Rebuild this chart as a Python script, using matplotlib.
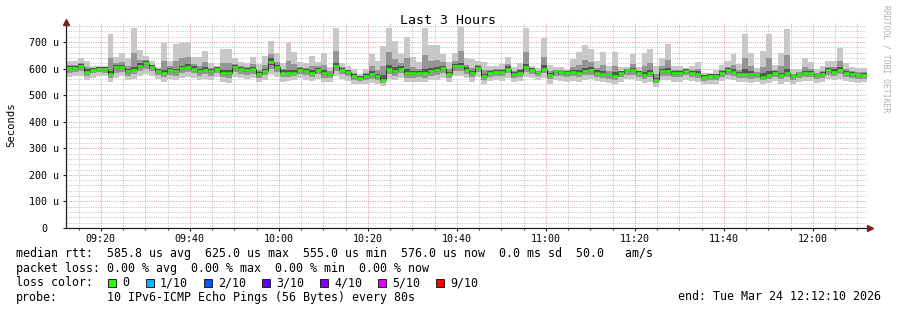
import datetime as dt
import numpy as np
import matplotlib
matplotlib.use("Agg")
import matplotlib.pyplot as plt
import matplotlib.dates as mdates
from matplotlib.ticker import MultipleLocator, FuncFormatter
from matplotlib.patches import Rectangle

# ---------------- data (microseconds) ----------------
start = dt.datetime(2026, 3, 24, 9, 12, 10)
step_seconds = 80

median = [601, 601, 608, 588, 595, 600, 598, 580, 604, 604,
          589, 596, 610, 619, 605, 590, 584, 594, 590, 601,
          606, 600, 590, 596, 590, 600, 583, 584, 604, 599,
          594, 599, 579, 591, 623, 604, 585, 585, 585, 595,
          591, 585, 596, 583, 578, 609, 596, 586, 571, 566,
          571, 578, 570, 558, 600, 591, 600, 584, 583, 584,
          585, 589, 593, 601, 580, 610, 608, 596, 583, 603,
          571, 585, 588, 586, 600, 579, 585, 605, 596, 586,
          599, 575, 589, 586, 583, 586, 584, 591, 593, 585,
          580, 578, 573, 583, 593, 593, 584, 576, 583, 558,
          589, 589, 583, 583, 591, 584, 580, 568, 573, 571,
          584, 593, 588, 580, 580, 578, 578, 569, 576, 584,
          574, 583, 570, 579, 583, 583, 574, 579, 593, 588,
          595, 584, 579, 574, 576]

ping_max = [628, 628, 638, 628, 611, 608, 608, 730, 643, 660,
            638, 753, 668, 648, 630, 605, 696, 630, 691, 696,
            700, 643, 643, 666, 620, 611, 674, 674, 638, 626,
            620, 643, 618, 648, 703, 658, 620, 696, 663, 625,
            620, 646, 625, 658, 605, 753, 620, 610, 599, 580,
            599, 653, 628, 685, 753, 703, 653, 718, 643, 625,
            753, 690, 688, 655, 625, 658, 755, 638, 634, 628,
            625, 611, 611, 618, 643, 605, 620, 753, 611, 601,
            713, 615, 605, 605, 600, 634, 661, 690, 674, 628,
            663, 611, 663, 605, 605, 655, 605, 659, 674, 611,
            638, 693, 608, 608, 603, 611, 625, 585, 583, 593,
            613, 628, 655, 618, 730, 659, 601, 665, 730, 615,
            659, 750, 598, 600, 640, 625, 598, 610, 628, 630,
            678, 620, 605, 603, 603]

ping_min = [568, 570, 573, 555, 565, 573, 570, 550, 565, 570,
            558, 562, 570, 580, 573, 560, 550, 560, 555, 565,
            568, 565, 555, 562, 555, 568, 550, 545, 568, 563,
            560, 563, 548, 558, 578, 568, 550, 552, 555, 563,
            558, 553, 560, 550, 548, 570, 560, 553, 543, 540,
            543, 545, 540, 533, 560, 555, 565, 548, 550, 550,
            548, 555, 558, 565, 548, 570, 570, 563, 550, 568,
            543, 553, 555, 553, 565, 548, 552, 568, 563, 555,
            565, 543, 555, 553, 550, 553, 550, 558, 560, 553,
            548, 546, 543, 550, 560, 560, 552, 545, 550, 530,
            555, 555, 550, 550, 558, 552, 548, 540, 543, 543,
            552, 560, 555, 548, 548, 546, 548, 540, 545, 552,
            543, 550, 542, 548, 552, 552, 545, 548, 560, 555,
            562, 552, 548, 545, 548]

mid_hi = [612, 612, 620, 604, 601, 603, 602, 640, 620, 626,
          609, 659, 633, 631, 615, 596, 629, 608, 630, 639,
          644, 617, 611, 624, 602, 604, 619, 620, 618, 610,
          604, 617, 595, 614, 655, 626, 599, 629, 616, 607,
          603, 609, 608, 613, 589, 667, 606, 596, 582, 572,
          582, 608, 593, 609, 661, 636, 621, 638, 607, 600,
          652, 629, 631, 623, 598, 629, 667, 613, 603, 613,
          593, 595, 597, 599, 617, 589, 599, 664, 602, 592,
          645, 591, 595, 594, 590, 605, 615, 631, 625, 602,
          613, 591, 609, 592, 598, 618, 592, 609, 619, 579,
          609, 631, 593, 593, 596, 595, 598, 575, 577, 580,
          596, 607, 615, 595, 640, 610, 587, 607, 638, 596,
          608, 650, 581, 587, 606, 600, 584, 591, 607, 605,
          628, 598, 589, 586, 587]

mid_lo = [585, 587, 590, 572, 582, 587, 585, 565, 585, 587,
          573, 579, 591, 599, 589, 575, 567, 577, 572, 583,
          587, 583, 572, 579, 572, 585, 567, 563, 587, 581,
          577, 581, 563, 574, 600, 586, 567, 568, 570, 579,
          575, 569, 578, 566, 563, 590, 578, 570, 557, 553,
          557, 561, 555, 545, 581, 573, 583, 566, 566, 567,
          566, 572, 575, 583, 564, 591, 589, 579, 567, 586,
          557, 569, 572, 570, 583, 563, 568, 587, 580, 571,
          582, 559, 572, 570, 567, 570, 567, 575, 577, 569,
          564, 562, 558, 567, 577, 577, 568, 561, 567, 544,
          572, 572, 567, 567, 575, 568, 564, 554, 558, 557,
          568, 577, 572, 564, 564, 562, 563, 555, 561, 568,
          559, 567, 556, 564, 568, 568, 560, 564, 577, 572,
          579, 568, 564, 560, 562]

core_hi = [609, 608, 616, 597, 602, 606, 605, 590, 612, 614,
           598, 606, 620, 628, 612, 597, 594, 602, 600, 611,
           616, 608, 599, 606, 597, 606, 593, 594, 612, 606,
           601, 607, 588, 600, 640, 613, 593, 596, 595, 602,
           598, 594, 603, 594, 585, 620, 603, 593, 578, 571,
           578, 590, 580, 575, 615, 605, 610, 598, 592, 591,
           600, 603, 605, 610, 588, 618, 620, 604, 592, 611,
           580, 592, 595, 593, 610, 586, 593, 618, 602, 592,
           613, 584, 595, 592, 589, 594, 596, 603, 605, 593,
           592, 585, 586, 589, 599, 602, 590, 586, 595, 566,
           598, 603, 590, 590, 597, 591, 589, 574, 578, 578,
           592, 601, 598, 588, 598, 590, 584, 582, 592, 591,
           585, 600, 577, 585, 592, 590, 580, 586, 601, 597,
           606, 591, 586, 581, 583]

core_lo = [595, 596, 601, 582, 590, 595, 592, 574, 597, 598,
           583, 590, 603, 612, 599, 584, 578, 588, 583, 595,
           600, 594, 584, 590, 584, 594, 577, 577, 598, 593,
           588, 593, 573, 585, 612, 597, 578, 579, 579, 589,
           585, 579, 590, 577, 572, 602, 590, 580, 566, 561,
           566, 572, 564, 552, 593, 585, 594, 577, 577, 578,
           578, 583, 587, 595, 574, 603, 601, 590, 577, 597,
           566, 579, 582, 580, 594, 573, 579, 598, 590, 580,
           593, 569, 583, 580, 577, 580, 578, 585, 587, 579,
           574, 572, 567, 577, 587, 587, 578, 570, 577, 553,
           583, 583, 577, 577, 585, 578, 574, 563, 568, 566,
           578, 587, 582, 574, 574, 572, 573, 564, 570, 578,
           568, 577, 565, 573, 577, 577, 569, 573, 587, 582,
           589, 578, 573, 569, 571]

legend_rows = [
    "median rtt:  585.8 us avg  625.0 us max  555.0 us min  576.0 us now  0.0 ms sd  50.0   am/s",
    "packet loss: 0.00 % avg  0.00 % max  0.00 % min  0.00 % now",
]
loss_labels = ["0", "1/10", "2/10", "3/10", "4/10", "5/10", "9/10"]
loss_colors = ["#26ff00", "#00b8ff", "#0059ff", "#5e00ff", "#7e00ff", "#dd00ff", "#ff0000"]
probe_text = "10 IPv6-ICMP Echo Pings (56 Bytes) every 80s"
end_text = "end: Tue Mar 24 12:12:10 2026"
title = "Last 3 Hours"

# ---------------- figure ----------------
W, H = 897, 310
MONO = "DejaVu Sans Mono"
fig = plt.figure(figsize=(W / 100, H / 100), dpi=100)
fig.patch.set_facecolor("white")

def fx(px):
    return px / W

def fy(py):
    return 1 - py / H

ax = fig.add_axes([fx(66), fy(228), fx(867) - fx(66), fy(22) - fy(228)])
ax.set_facecolor("white")

n = len(median)
edges = mdates.date2num([start + dt.timedelta(seconds=step_seconds * i) for i in range(n + 1)])

def ext(a):
    return np.append(np.asarray(a, float), a[-1])

ax.fill_between(edges, ext(ping_min), ext(ping_max), step="post", color="#c8c8c8", lw=0, zorder=2)
ax.fill_between(edges, ext(mid_lo), ext(mid_hi), step="post", color="#959595", lw=0, zorder=3)
ax.fill_between(edges, ext(core_lo), ext(core_hi), step="post", color="#555555", lw=0, zorder=4)
ax.step(edges, ext(median), where="post", color="#202020", lw=0.6, zorder=5)
ax.hlines(median, edges[:-1], edges[1:], color=loss_colors[0], lw=1.8, zorder=6)

ax.set_xlim(edges[0], edges[-1])
ax.set_ylim(0, 775)

# grid
ax.yaxis.set_major_locator(MultipleLocator(100))
ax.yaxis.set_minor_locator(MultipleLocator(20))
ax.xaxis.set_major_locator(mdates.MinuteLocator(byminute=[0, 20, 40]))
ax.xaxis.set_minor_locator(mdates.MinuteLocator(byminute=range(0, 60, 5)))
ax.xaxis.set_major_formatter(mdates.DateFormatter("%H:%M"))
ax.yaxis.set_major_formatter(FuncFormatter(lambda v, p: "0" if v == 0 else f"{int(v)} u"))

ax.grid(which="minor", color="#8f8f8f", alpha=0.55, lw=0.7, ls=(0, (1, 1.3)), zorder=1)
ax.grid(which="major", color="#de5050", alpha=0.6, lw=0.7, ls=(0, (1, 1.3)), zorder=1)
ax.set_axisbelow(True)

for s in ["top", "right"]:
    ax.spines[s].set_visible(False)
for s in ["left", "bottom"]:
    ax.spines[s].set_color("#1f1f1f")
    ax.spines[s].set_linewidth(0.9)
    ax.spines[s].set_zorder(7)

ax.tick_params(which="major", length=2.5, width=0.8, color="#1f1f1f", direction="out")
ax.tick_params(axis="x", which="minor", length=1.5, width=0.6, color="#1f1f1f", direction="out")
ax.tick_params(axis="y", which="minor", length=0)
ax.tick_params(axis="x", pad=2)
ax.tick_params(axis="y", pad=13)
for lab in ax.get_xticklabels() + ax.get_yticklabels():
    lab.set_fontfamily(MONO)
    lab.set_fontsize(7.2)
for lab in ax.get_yticklabels():
    lab.set_horizontalalignment("center")

# arrows
ax.plot([0], [1.0], marker="^", color="#7f1f1f", ms=4, transform=ax.transAxes, clip_on=False, zorder=8)
ax.plot([1.004], [0], marker=">", color="#7f1f1f", ms=4, transform=ax.transAxes, clip_on=False, zorder=8)

# texts
fig.text(fx(448), fy(20), title, ha="center", va="center", family=MONO, fontsize=9.5)
fig.text(fx(11), fy(125), "Seconds", rotation=90, ha="center", va="center", family=MONO, fontsize=7.6)
fig.text(fx(886), fy(5), "RRDTOOL / TOBI OETIKER", rotation=270, ha="center", va="top",
         family=MONO, fontsize=5.8, color="#b0b0b0")

FS = 8.4
fig.text(fx(16), fy(254), legend_rows[0], ha="left", va="center", family=MONO, fontsize=FS)
fig.text(fx(16), fy(268.5), legend_rows[1], ha="left", va="center", family=MONO, fontsize=FS)
fig.text(fx(16), fy(282.5), "loss color:", ha="left", va="center", family=MONO, fontsize=FS)
box_x = [108, 146, 204, 262, 320, 378, 436]
for bx, lab, col in zip(box_x, loss_labels, loss_colors):
    fig.add_artist(Rectangle((fx(bx), fy(287)), 8 / W, 8 / H, transform=fig.transFigure,
                             facecolor=col, edgecolor="#202020", lw=0.7))
    fig.text(fx(bx + 14), fy(282.5), lab, ha="left", va="center", family=MONO, fontsize=FS)
fig.text(fx(16), fy(297), "probe:", ha="left", va="center", family=MONO, fontsize=FS)
fig.text(fx(107), fy(297), probe_text, ha="left", va="center", family=MONO, fontsize=FS)
fig.text(fx(881), fy(297), end_text, ha="right", va="center", family=MONO, fontsize=FS)

fig.savefig("out.png", dpi=100, facecolor="white")
